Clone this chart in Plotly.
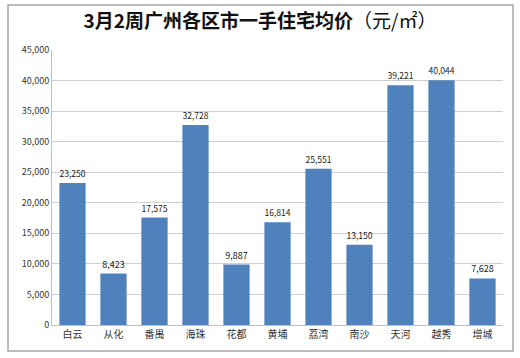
import plotly.graph_objects as go

categories = ["白云", "从化", "番禺", "海珠", "花都", "黄埔", "荔湾", "南沙", "天河", "越秀", "增城"]
values = [23250, 8423, 17575, 32728, 9887, 16814, 25551, 13150, 39221, 40044, 7628]
tick_vals = list(range(0, 45001, 5000))
tick_text = [f"{v:,}" for v in tick_vals]
title_text = "<b>3月2周广州各区市一手住宅均价</b>（元/㎡）"

W, H = 520, 358
L, R, T, B = 52, 17, 50, 33
pw, ph = W - L - R, H - T - B

font = "Noto Sans CJK SC, Open Sans, sans-serif"

fig = go.Figure(go.Bar(
    x=categories, y=values,
    marker=dict(color="#4F81BD", line=dict(width=0)),
    width=0.64,
    text=[f"{v:,}" for v in values],
    textposition="outside",
    textfont=dict(size=9, color="#222222", family=font),
    cliponaxis=False,
))

def px_x(x):
    return (x - L) / pw

def px_y(y):
    return (H - B - y) / ph

fig.update_layout(
    width=W, height=H,
    margin=dict(l=L, r=R, t=T, b=B),
    paper_bgcolor="white", plot_bgcolor="white",
    font=dict(family=font, size=9, color="#333333"),
    title=dict(text=title_text, x=0.5, xref="container", xanchor="center",
               y=1 - 21 / H, yref="container", yanchor="middle",
               font=dict(size=19, color="#111111", family=font)),
    xaxis=dict(showgrid=False, showline=True, linecolor="#BFBFBF", linewidth=1,
               ticks="", tickfont=dict(size=10, color="#333333"), fixedrange=True),
    yaxis=dict(range=[0, 45000], tickvals=tick_vals, ticktext=tick_text,
               showgrid=True, gridcolor="#D0D0D0", gridwidth=1,
               showline=True, linecolor="#BFBFBF", linewidth=1,
               ticks="", ticklen=0, tickfont=dict(size=9, color="#333333"),
               zeroline=False),
    showlegend=False,
    shapes=[dict(type="rect", xref="paper", yref="paper",
                 x0=px_x(8), x1=px_x(513), y0=px_y(351), y1=px_y(5),
                 line=dict(color="#A6A6A6", width=1.5), fillcolor="rgba(0,0,0,0)",
                 layer="below")],
)

fig.write_html("out.html", config={"displayModeBar": False},
               post_script="document.body.style.margin='0px';")
